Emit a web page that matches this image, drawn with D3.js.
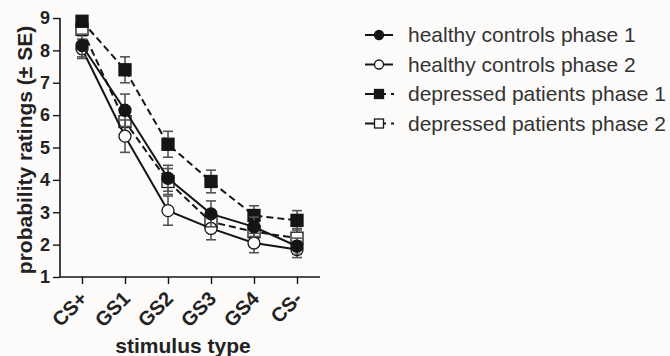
<!DOCTYPE html>
<html>
<head>
<meta charset="utf-8">
<script src="https://cdn.jsdelivr.net/npm/d3@7"></script>
<style>
  body { margin: 0; background: #fcfbf9; }
  svg { display: block; font-family: "Liberation Sans", Arial, sans-serif; }
</style>
</head>
<body>
<div id="chart"></div>
<script>
// stimulus categories
const categories = ["CS+", "GS1", "GS2", "GS3", "GS4", "CS-"];
const yTicks = [1, 2, 3, 4, 5, 6, 7, 8, 9];

// means
const hcPhase1 = [8.15, 6.15, 4.05, 2.95, 2.55, 1.95];
const hcPhase2 = [8.05, 5.35, 3.05, 2.5, 2.05, 1.85];
const dpPhase1 = [8.9, 7.4, 5.1, 3.95, 2.9, 2.75];
const dpPhase2 = [8.65, 5.8, 3.95, 2.7, 2.4, 2.2];

// standard errors
const hcPhase1Se = [0.35, 0.5, 0.4, 0.4, 0.3, 0.25];
const hcPhase2Se = [0.3, 0.5, 0.45, 0.35, 0.3, 0.25];
const dpPhase1Se = [0.1, 0.4, 0.4, 0.35, 0.3, 0.3];
const dpPhase2Se = [0.2, 0.4, 0.4, 0.3, 0.3, 0.3];

const seriesNames = ["healthy controls phase 1", "healthy controls phase 2",
  "depressed patients phase 1", "depressed patients phase 2"];

const series = [
  {name: seriesNames[0], values: hcPhase1, se: hcPhase1Se, shape: "circle", filled: true, dashed: false},
  {name: seriesNames[1], values: hcPhase2, se: hcPhase2Se, shape: "circle", filled: false, dashed: false},
  {name: seriesNames[2], values: dpPhase1, se: dpPhase1Se, shape: "square", filled: true, dashed: true},
  {name: seriesNames[3], values: dpPhase2, se: dpPhase2Se, shape: "square", filled: false, dashed: true}
];

const width = 670, height = 356;
const ink = "#151515";
const barInk = "#555";
const paper = "#fcfbf9";

const svg = d3.select("#chart").append("svg")
  .attr("width", width)
  .attr("height", height);

const x = d3.scalePoint().domain(categories).range([82, 297]);
const y = d3.scaleLinear().domain([1, 9]).range([277, 18]);

// axes
const yAxis = svg.append("g")
  .attr("transform", "translate(60,0)")
  .call(d3.axisLeft(y).tickValues(yTicks).tickSize(7).tickPadding(3).tickFormat(d3.format("d")));
yAxis.select(".domain").attr("stroke", ink).attr("stroke-width", 1.6).attr("d", "M0,18V277");
yAxis.selectAll(".tick line").attr("stroke", ink).attr("stroke-width", 1.4);
yAxis.selectAll("text")
  .attr("font-size", 18).attr("font-weight", "bold").attr("fill", "#222")
  .attr("font-family", "Liberation Sans, Arial, sans-serif");

const xAxis = svg.append("g")
  .attr("transform", "translate(0,277)")
  .call(d3.axisBottom(x).tickSize(7).tickPadding(0));
xAxis.select(".domain").attr("stroke", ink).attr("stroke-width", 1.6).attr("d", "M60,0H320");
xAxis.selectAll(".tick line").attr("stroke", ink).attr("stroke-width", 1.4);
xAxis.selectAll("text")
  .attr("font-size", 20).attr("font-weight", "bold").attr("fill", "#222")
  .attr("font-family", "Liberation Sans, Arial, sans-serif")
  .attr("text-anchor", "end")
  .attr("dy", null)
  .attr("transform", "translate(1,18) rotate(-45)");

// axis titles
svg.append("text")
  .attr("transform", "translate(32,150) rotate(-90)")
  .attr("text-anchor", "middle")
  .attr("font-size", 21).attr("font-weight", "bold").attr("fill", "#222")
  .text("probability ratings (\u00b1 SE)");

svg.append("text")
  .attr("x", 183).attr("y", 353)
  .attr("text-anchor", "middle")
  .attr("font-size", 21).attr("font-weight", "bold").attr("fill", "#222")
  .text("stimulus type");

const line = d3.line()
  .x((d, i) => x(categories[i]))
  .y(d => y(d));

function drawMarker(g, s, cx, cy, r) {
  const fill = s.filled ? ink : paper;
  if (s.shape === "circle") {
    g.append("circle").attr("cx", cx).attr("cy", cy).attr("r", r)
      .attr("fill", fill).attr("stroke", ink).attr("stroke-width", 1.3);
  } else {
    g.append("rect").attr("x", cx - r).attr("y", cy - r).attr("width", 2 * r).attr("height", 2 * r)
      .attr("fill", fill).attr("stroke", ink).attr("stroke-width", 1.3);
  }
}

// error bars first, then lines, then markers
const plot = svg.append("g");
series.slice().reverse().forEach(s => {
  const g = plot.append("g");
  s.values.forEach((v, i) => {
    const cx = x(categories[i]);
    const lo = y(v - s.se[i]), hi = y(v + s.se[i]);
    g.append("line").attr("x1", cx).attr("x2", cx).attr("y1", lo).attr("y2", hi)
      .attr("stroke", barInk).attr("stroke-width", 1.6);
    [lo, hi].forEach(yy => g.append("line")
      .attr("x1", cx - 5).attr("x2", cx + 5).attr("y1", yy).attr("y2", yy)
      .attr("stroke", barInk).attr("stroke-width", 1.6));
  });
  g.append("path").datum(s.values)
    .attr("d", line)
    .attr("fill", "none")
    .attr("stroke", ink)
    .attr("stroke-width", 2)
    .attr("stroke-dasharray", s.dashed ? "7,4" : null);
  s.values.forEach((v, i) => drawMarker(g, s, x(categories[i]), y(v), 6));
});

// legend
const legend = svg.append("g");
series.forEach((s, i) => {
  const ly = 35 + i * 29.5;
  const g = legend.append("g");
  if (s.dashed) {
    g.append("line").attr("x1", 365).attr("x2", 386).attr("y1", ly).attr("y2", ly)
      .attr("stroke", ink).attr("stroke-width", 2);
    g.append("line").attr("x1", 391).attr("x2", 394).attr("y1", ly).attr("y2", ly)
      .attr("stroke", ink).attr("stroke-width", 2);
  } else {
    g.append("line").attr("x1", 365).attr("x2", 393).attr("y1", ly).attr("y2", ly)
      .attr("stroke", ink).attr("stroke-width", 2);
  }
  drawMarker(g, s, 379, ly, 4.5);
  g.append("text")
    .attr("x", 408).attr("y", ly).attr("dy", "0.35em")
    .attr("font-size", 21).attr("fill", "#333")
    .text(s.name);
});
</script>
</body>
</html>
